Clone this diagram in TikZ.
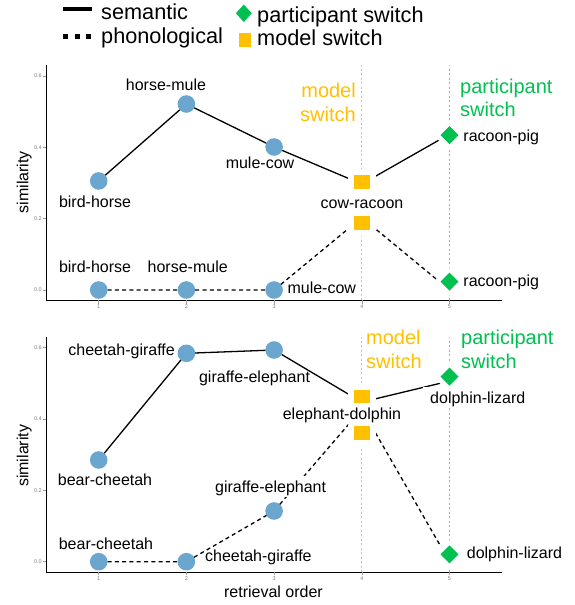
\documentclass[tikz,border=0pt]{standalone}
\usepackage{fontspec}
\setmainfont{Liberation Sans}
\usetikzlibrary{shapes.geometric}

\definecolor{ptblue}{RGB}{107,166,206}
\definecolor{modelgold}{RGB}{255,192,0}
\definecolor{partgreen}{RGB}{0,192,80}
\definecolor{mlinecol}{RGB}{245,190,60}
\definecolor{plinecol}{RGB}{80,220,150}

\tikzset{
    dot/.style={circle, fill=ptblue, inner sep=0pt, outer sep=0pt, minimum size=17.6pt},
    msq/.style={rectangle, fill=modelgold, inner sep=0pt, outer sep=0pt,
        minimum width=16pt, minimum height=14pt,
        preaction={draw=white, line width=12pt, line join=round}},
    pdia/.style={diamond, fill=partgreen, inner sep=0pt, outer sep=0pt,
        minimum width=18pt, minimum height=18pt,
        preaction={draw=white, line width=10pt, line join=round}},
    sem/.style={black, line width=1.3pt},
    phon/.style={black, line width=1.3pt, dash pattern=on 4pt off 3.3pt},
    mline/.style={draw=mlinecol, line width=1.3pt, dash pattern=on 2pt off 2.5pt},
    pline/.style={draw=plinecol, line width=1.3pt, dash pattern=on 2pt off 2.5pt},
    axisline/.style={black, line width=0.9pt},
    tickmark/.style={gray!80, line width=0.6pt},
    ticklab/.style={font=\fontsize{5.5}{6}\selectfont, text=gray, inner sep=0pt},
    lab/.style={font=\fontsize{16}{18}\selectfont, inner sep=0pt},
    labw/.style={lab, fill=white, text height=11.5pt, text depth=0pt, inner xsep=7pt, inner ysep=5pt},
    note/.style={font=\fontsize{20}{23.5}\selectfont, inner sep=0pt},
    keytext/.style={font=\fontsize{21.7}{24}\selectfont, inner sep=0pt},
    axistitle/.style={font=\fontsize{16}{18}\selectfont, inner sep=0pt}
}

\begin{document}
\begin{tikzpicture}[x=1pt, y=1pt]

    \useasboundingbox (0,0) rectangle (574,605);

    % legend
    \draw[black, line width=4pt] (63,596.3) -- (92,596.3);
    \draw[black, line width=4.5pt, dash pattern=on 5pt off 6.2pt] (63.3,568.3) -- (90.7,568.3);
    \node[diamond, fill=partgreen, inner sep=0pt, minimum width=16pt, minimum height=17.7pt] (kpart) at (243.8,591.7) {};
    \node[rectangle, fill=modelgold, inner sep=0pt, minimum width=11.7pt, minimum height=13.3pt] (kmodel) at (245,565) {};
    \node[keytext, anchor=base west] (ksem) at (101,585.7) {semantic};
    \node[keytext, anchor=base west] (kphon) at (101,561.7) {phonological};
    \node[keytext, anchor=base west] (kparttxt) at (257,582.3) {participant switch};
    \node[keytext, anchor=base west] (kmodeltxt) at (257,559) {model switch};

    % upper panel
    \begin{scope}[shift={(11pt,315pt)}, x=87.7pt, y=356.7pt]

        \draw[axisline] (0.399,0.631) -- (0.399,-0.0294) -- (5.595,-0.0294);
        \foreach \v [count=\k] in {0.0,0.2,0.4,0.6} {
            \draw[tickmark] (0.365,\v) -- (0.399,\v);
            \node[ticklab, anchor=east] (tya\k) at (0.3535,\v) {\v};
        }
        \foreach \i in {1,...,5} {
            \draw[tickmark] (\i,-0.0294) -- (\i,-0.038);
            \node[ticklab] (txa\i) at (\i,-0.0468) {\i};
        }
        \node[axistitle, rotate=90] (tylab) at (0.150,0.302) {similarity};

        \draw[mline] (4,-0.0294) -- (4,0.631);
        \draw[pline] (5,-0.0294) -- (5,0.631);

        \node[dot] (s1) at (1,0.3056) {};
        \node[dot] (s2) at (2,0.5214) {};
        \node[dot] (s3) at (3,0.4009) {};
        \coordinate (s4v) at (4,0.297);
        \coordinate (s5v) at (5,0.437);

        \node[dot] (p1) at (1,0) {};
        \node[dot] (p2) at (2,0) {};
        \node[dot] (p3) at (3,0) {};
        \coordinate (p4v) at (4,0.203);
        \coordinate (p5v) at (5,0);

        \draw[sem] (s1) -- (s2) -- (s3) -- (s4v) -- (s5v);
        \draw[phon] (p1) -- (p2) -- (p3) -- (p4v) -- (p5v);

        \node[msq] (s4) at (4,0.3036) {};
        \node[pdia] (s5) at (5,0.4345) {};
        \node[msq] (p4) at (4,0.1887) {};
        \node[pdia] (p5) at (5,0.0233) {};

        \node[lab, anchor=base] (ls1) at (0.958,0.2307) {bird-horse};
        \node[lab, anchor=base] (ls2) at (1.767,0.5587) {horse-mule};
        \node[lab, anchor=base] (ls3) at (2.839,0.3412) {mule-cow};
        \node[labw, anchor=base] (ls4) at (4.002,0.2271) {cow-racoon};
        \node[lab, anchor=base west] (ls5) at (5.157,0.4158) {racoon-pig};
        \node[lab, anchor=base] (lp1) at (0.958,0.0485) {bird-horse};
        \node[lab, anchor=base] (lp2) at (2.015,0.0485) {horse-mule};
        \node[lab, anchor=base west] (lp3) at (3.151,-0.0093) {mule-cow};
        \node[lab, anchor=base west] (lp5) at (5.157,0.0093) {racoon-pig};

        \node[note, text=modelgold, align=right, anchor=base east] (tmodel) at (3.934,0.4724) {model\\switch};
        \node[note, text=partgreen, align=left, anchor=base west] (tpart) at (5.120,0.4858) {participant\\switch};

    \end{scope}

    % lower panel
    \begin{scope}[shift={(11pt,43.3pt)}, x=87.7pt, y=357pt]

        \draw[axisline] (0.399,0.629) -- (0.399,-0.0289) -- (5.595,-0.0289);
        \foreach \v [count=\k] in {0.0,0.2,0.4,0.6} {
            \draw[tickmark] (0.365,\v) -- (0.399,\v);
            \node[ticklab, anchor=east] (bya\k) at (0.3535,\v) {\v};
        }
        \foreach \i in {1,...,5} {
            \draw[tickmark] (\i,-0.0289) -- (\i,-0.038);
            \node[ticklab] (bxa\i) at (\i,-0.0465) {\i};
        }
        \node[axistitle, rotate=90] (bylab) at (0.150,0.2966) {similarity};
        \node[axistitle, anchor=base] (bxlab) at (2.993,-0.0997) {retrieval order};

        \draw[mline] (4,-0.0289) -- (4,0.629);
        \draw[pline] (5,-0.0289) -- (5,0.629);

        \node[dot] (b1) at (1,0.2849) {};
        \node[dot] (b2) at (2,0.5837) {};
        \node[dot] (b3) at (3,0.593) {};
        \coordinate (b4v) at (4,0.447);
        \coordinate (b5v) at (5,0.506);

        \node[dot] (c1) at (1,0) {};
        \node[dot] (c2) at (2,0) {};
        \node[dot] (c3) at (3,0.142) {};
        \coordinate (c4v) at (4,0.4277);
        \coordinate (c5v) at (5,0);

        \draw[sem] (b1) -- (b2) -- (b3) -- (b4v) -- (b5v);
        \draw[phon] (c1) -- (c2) -- (c3) -- (c4v) -- (c5v);

        \node[msq] (b4) at (4,0.4613) {};
        \node[pdia] (b5) at (5,0.5182) {};
        \node[msq] (c4) at (4,0.3597) {};
        \node[pdia] (c5) at (5,0.0207) {};

        \node[lab, anchor=base] (lb1) at (1.072,0.2148) {bear-cheetah};
        \node[lab, anchor=base east] (lb2) at (1.870,0.577) {cheetah-giraffe};
        \node[lab, anchor=base] (lb3) at (2.777,0.5025) {giraffe-elephant};
        \node[labw, anchor=base] (lb4) at (3.774,0.3997) {elephant-dolphin};
        \node[labw, anchor=base west] (lb5) at (4.698,0.4437) {dolphin-lizard};
        \node[lab, anchor=base] (lc1) at (1.083,0.0328) {bear-cheetah};
        \node[lab, anchor=base west] (lc2) at (2.212,0.0006) {cheetah-giraffe};
        \node[labw, anchor=base west] (lc3) at (2.246,0.1944) {giraffe-elephant};
        \node[lab, anchor=base west] (lc5) at (5.196,0.0095) {dolphin-lizard};

        \node[note, text=modelgold, align=left, anchor=base west] (bmodel) at (4.048,0.5417) {model\\switch};
        \node[note, text=partgreen, align=left, anchor=base west] (bpart) at (5.131,0.5417) {participant\\switch};

    \end{scope}

\end{tikzpicture}
\end{document}
